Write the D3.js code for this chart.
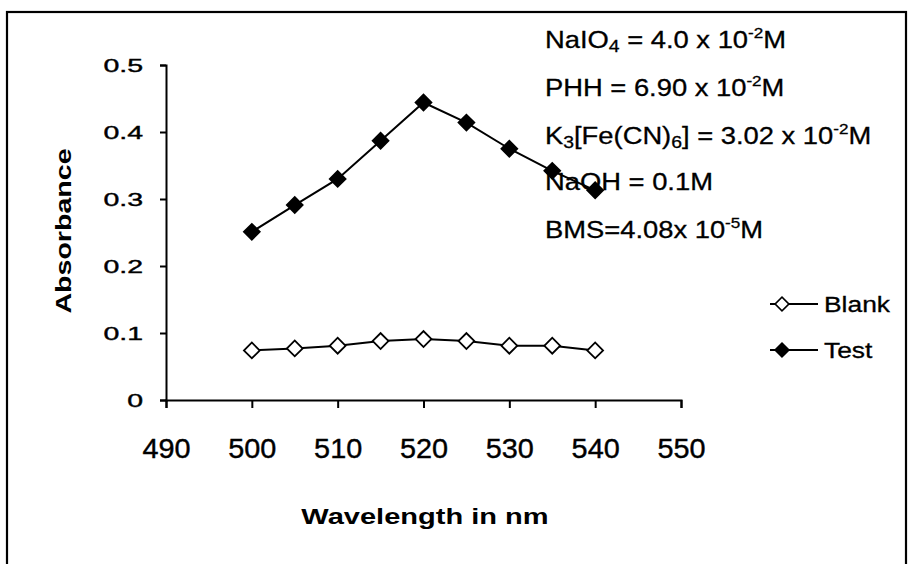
<!DOCTYPE html>
<html>
<head>
<meta charset="utf-8">
<script src="https://cdn.jsdelivr.net/npm/d3@7"></script>
<style>
  html, body { margin: 0; padding: 0; background: #fff; }
  svg { display: block; }
</style>
</head>
<body>
<svg id="chart" width="909" height="564"></svg>
<script>
// ---- data ----
const wavelengths = [500, 505, 510, 515, 520, 525, 530, 535, 540];
const blankValues = [0.074, 0.077, 0.081, 0.088, 0.091, 0.088, 0.081, 0.081, 0.074];
const testValues  = [0.251, 0.291, 0.330, 0.387, 0.444, 0.414, 0.375, 0.342, 0.313];
const xTicks = [490, 500, 510, 520, 530, 540, 550];
const yTicks = [0, 0.1, 0.2, 0.3, 0.4, 0.5];
const seriesNames = ["Blank", "Test"];
const xTitle = "Wavelength in nm";
const yTitle = "Absorbance";
const notes = [
  [["NaIO", ""], ["4", "sub"], [" = 4.0 x 10", ""], ["-2", "sup"], ["M", ""]],
  [["PHH = 6.90 x 10", ""], ["-2", "sup"], ["M", ""]],
  [["K", ""], ["3", "sub"], ["[Fe(CN)", ""], ["6", "sub"], ["] = 3.02 x 10", ""], ["-2", "sup"], ["M", ""]],
  [["NaOH  = 0.1M", ""]],
  [["BMS=4.08x 10", ""], ["-5", "sup"], ["M", ""]]
];

const svg = d3.select("#chart");
const font = "'Liberation Sans', Arial, sans-serif";

// helper: widen glyphs horizontally (the scanned chart is stretched sideways)
function hstretch(sel, sx) {
  sel.each(function () {
    const s = d3.select(this);
    const x0 = +s.attr("x") || 0, y0 = +s.attr("y") || 0;
    s.attr("x", 0).attr("y", 0).attr("transform", `translate(${x0},${y0}) scale(${sx},1)`);
  });
}

svg.append("rect").attr("width", 909).attr("height", 564).attr("fill", "#fff");
svg.append("rect")
  .attr("x", 7).attr("y", 12).attr("width", 899).attr("height", 600)
  .attr("fill", "none").attr("stroke", "#000").attr("stroke-width", 2.2);

const x = d3.scaleLinear().domain([490, 550]).range([166, 681]);
const y = d3.scaleLinear().domain([0, 0.5]).range([400, 65]);

// y axis
const gy = svg.append("g").attr("transform", "translate(166,0)")
  .call(d3.axisLeft(y).tickValues(yTicks).tickSize(6).tickPadding(10)
    .tickFormat(d => d === 0 ? "0" : d.toFixed(1)));
gy.select(".domain").attr("stroke-width", 2);
gy.selectAll(".tick line").attr("stroke-width", 2);
gy.selectAll("text").attr("font-family", font).attr("font-size", 19).attr("fill", "#000")
  .attr("stroke", "#000").attr("stroke-width", 0.4)
  .attr("dy", "0.35em").attr("x", -23);
hstretch(gy.selectAll("text"), 1.5);

// x axis
const gx = svg.append("g").attr("transform", "translate(0,400)")
  .call(d3.axisBottom(x).tickValues(xTicks).tickSize(8).tickPadding(30).tickFormat(d3.format("d")));
gx.select(".domain").attr("stroke-width", 2);
gx.selectAll(".tick line").attr("stroke-width", 2);
gx.selectAll("text").attr("font-family", font).attr("font-size", 28).attr("fill", "#000")
  .attr("stroke", "#000").attr("stroke-width", 0.4);
hstretch(gx.selectAll("text"), 1.03);

// titles
svg.append("text").attr("transform", "translate(425,524) scale(1.32,1)").attr("text-anchor", "middle")
  .attr("font-family", font).attr("font-weight", "bold").attr("font-size", 22).text(xTitle);
svg.append("text").attr("transform", "translate(71,231) rotate(-90) scale(1.3,1)").attr("text-anchor", "middle")
  .attr("font-family", font).attr("font-weight", "bold").attr("font-size", 22).text(yTitle);

// lines & markers
const line = d3.line().x(d => x(d[0])).y(d => y(d[1]));
const series = [
  { name: seriesNames[0], vals: blankValues, fill: "#fff" },
  { name: seriesNames[1], vals: testValues, fill: "#000" }
];
series.forEach(s => {
  const pts = wavelengths.map((w, i) => [w, s.vals[i]]);
  svg.append("path").datum(pts).attr("d", line).attr("fill", "none")
    .attr("stroke", "#000").attr("stroke-width", 2);
  svg.selectAll(null).data(pts).enter().append("path")
    .attr("d", d3.symbol().type(d3.symbolSquare).size(125))
    .attr("transform", d => `translate(${x(d[0])},${y(d[1])}) rotate(45)`)
    .attr("fill", s.fill).attr("stroke", "#000").attr("stroke-width", 1.8);
});

// legend
series.forEach((s, i) => {
  const ly = 304 + i * 46;
  svg.append("line").attr("x1", 770).attr("x2", 818).attr("y1", ly).attr("y2", ly)
    .attr("stroke", "#000").attr("stroke-width", 2);
  svg.append("path").attr("d", d3.symbol().type(d3.symbolSquare).size(95))
    .attr("transform", `translate(782,${ly}) rotate(45)`)
    .attr("fill", s.fill).attr("stroke", "#000").attr("stroke-width", 1.6);
  svg.append("text").attr("transform", `translate(824,${ly + 8}) scale(1.2,1)`).attr("font-family", font)
    .attr("font-size", 22).attr("stroke", "#000").attr("stroke-width", 0.3).text(s.name);
});

// annotation
const noteY = [48, 96, 144, 190, 238];
notes.forEach((parts, i) => {
  const t = svg.append("text").attr("transform", `translate(545,${noteY[i]}) scale(1.14,1)`)
    .attr("font-family", font).attr("font-size", 24).attr("fill", "#000")
    .attr("stroke", "#000").attr("stroke-width", 0.3);
  let shift = 0;
  parts.forEach(([txt, kind]) => {
    const ts = t.append("tspan").text(txt);
    const want = kind === "sub" ? 4 : kind === "sup" ? -10 : 0;
    if (kind === "sub") ts.attr("font-size", 17);
    else if (kind === "sup") ts.attr("font-size", 15);
    ts.attr("dy", want - shift);
    shift = want;
  });
});
</script>
</body>
</html>
